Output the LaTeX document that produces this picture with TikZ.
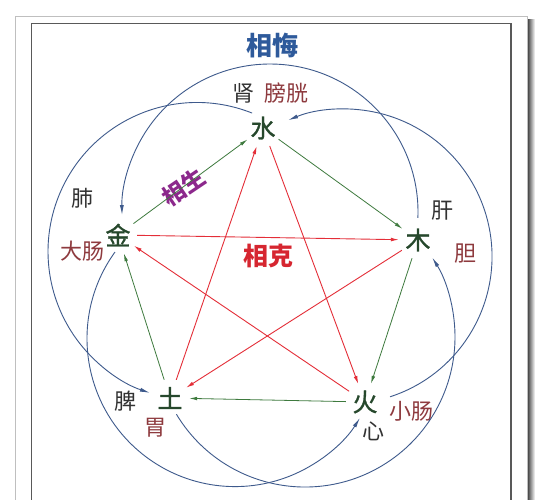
\documentclass[tikz,border=0pt]{standalone}
\usepackage{fontspec}
\setmainfont{Noto Sans CJK SC}
\newfontfamily\elemfont[FakeBold=1.2]{Noto Sans CJK SC}
\usetikzlibrary{arrows.meta}
\definecolor{huiblue}{RGB}{62,90,140}
\definecolor{titleblue}{RGB}{46,90,155}
\definecolor{shenggreen}{RGB}{62,122,62}
\definecolor{elemgreen}{RGB}{38,72,44}
\definecolor{kered}{RGB}{228,46,56}
\definecolor{ketext}{RGB}{214,38,48}
\definecolor{zangcol}{RGB}{50,50,50}
\definecolor{fucol}{RGB}{142,58,62}
\definecolor{shengtext}{RGB}{140,40,140}
\tikzset{
  elem/.style={circle, inner sep=0pt, minimum size=38pt, text=elemgreen, font=\elemfont\fontsize{25}{25}\selectfont},
  zang/.style={inner sep=0pt, text=zangcol, font=\fontsize{22}{22}\selectfont},
  fu/.style={inner sep=0pt, text=fucol, font=\fontsize{22}{22}\selectfont},
  sheng/.style={draw=shenggreen, line width=0.8pt, -{Latex[length=8pt,width=3.6pt]}},
  ke/.style={draw=kered, line width=0.9pt, -{Latex[length=8pt,width=3.8pt]}},
  hui/.style={draw=huiblue, line width=0.9pt, -{Latex[length=10pt,width=4pt]}},
  framelight/.style={draw=black!25, line width=0.9pt},
  framedark/.style={draw=black!65, line width=1.1pt}
}
\begin{document}
\begin{tikzpicture}[x=1pt,y=1pt]
\useasboundingbox (0,0) rectangle (543,-500);
\clip (0,0) rectangle (543,-500);
\fill[white] (0,0) rectangle (543,-500);
% frame
\shade[left color=black!75, right color=white] (527.5,-20) rectangle (535,-500);
\draw[framelight] (15.5,-16) rectangle (527,-520);
\draw[framedark] (31.5,-23.5) rectangle (511,-520);

% titles
\node[text=titleblue, font=\fontsize{26}{26}\selectfont\bfseries] (huititle) at (272,-46) {相悔};
\node[text=ketext, font=\fontsize{25}{25}\selectfont\bfseries] (ketitle) at (268,-256) {相克};
\node[text=shengtext, font=\fontsize{23}{23}\selectfont\bfseries, rotate=34] (shengtitle) at (184,-187) {相生};

% elements
\node[elem] (shui) at (263,-128) {水};
\node[elem] (mu) at (418,-240) {木};
\node[elem] (huo) at (365,-402) {火};
\node[elem] (tu) at (170,-398) {土};
\node[elem] (jin) at (118,-235) {金};

% organs
\node[zang] (shen) at (243,-93) {肾};
\node[fu] (pangguang) at (286,-93) {膀胱};
\node[zang] (fei) at (82,-198) {肺};
\node[fu] (dachang) at (82,-251) {大肠};
\node[zang] (gan) at (442,-211) {肝};
\node[fu] (dan) at (465,-254) {胆};
\node[zang] (pi) at (125,-401) {脾};
\node[fu] (wei) at (155,-428) {胃};
\node[zang] (xin) at (373,-431) {心};
\node[fu] (xiaochang) at (411,-411) {小肠};

% sheng cycle (green)
\draw[sheng] (jin) -- (shui);
\draw[sheng] (shui) -- (mu);
\draw[sheng] (mu) -- (huo);
\draw[sheng] (huo) -- (tu);
\draw[sheng] (tu) -- (jin);

% ke cycle (red)
\draw[ke] (jin) -- (mu);
\draw[ke] (mu) -- (tu);
\draw[ke] (tu) -- (shui);
\draw[ke] (shui) -- (huo);
\draw[ke] (huo) -- (jin);

% hui cycle (blue arcs)
\coordinate (c1) at (270,-212);
\coordinate (c2) at (197,-251.5);
\coordinate (c3) at (344.5,-256.5);
\coordinate (c4) at (305,-337);
\coordinate (c5) at (235,-338.6);
\draw[hui] (c1) ++(-2.3:148) arc[start angle=-2.3, end angle=181.2, radius=148];
\draw[hui] (c2) ++(68.3:149) arc[start angle=68.3, end angle=251.6, radius=149];
\draw[hui] (c3) ++(-72:147.5) arc[start angle=-72, end angle=112.5, radius=147.5];
\draw[hui] (c4) ++(211:150) arc[start angle=211, end angle=392, radius=150];
\draw[hui] (c5) ++(144.2:148) arc[start angle=144.2, end angle=327.6, radius=148];
\end{tikzpicture}
\end{document}
